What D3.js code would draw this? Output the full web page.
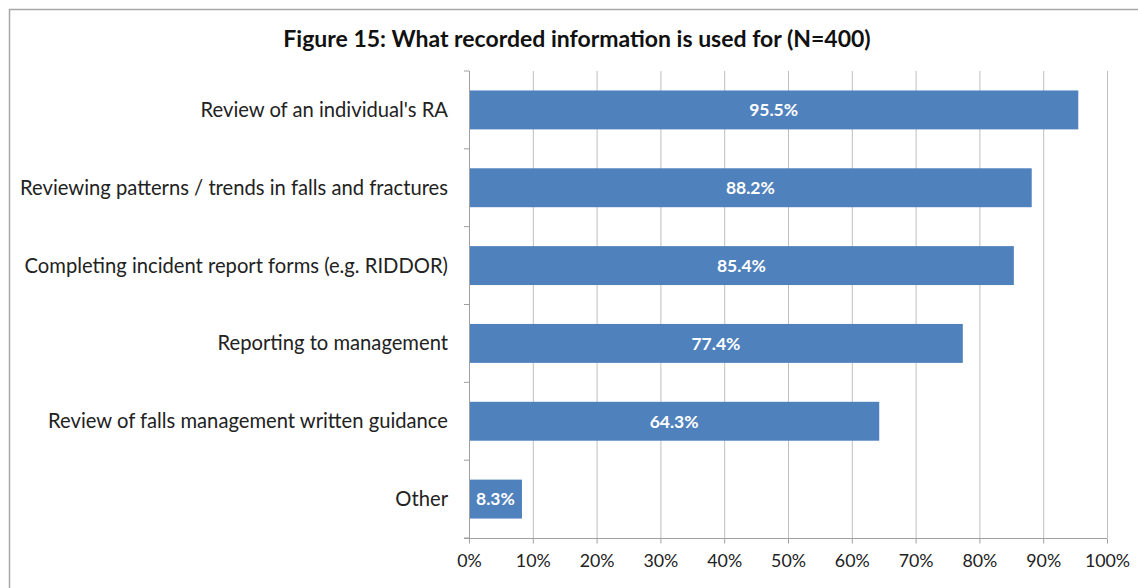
<!DOCTYPE html>
<html><head><meta charset="utf-8">
<script src="https://cdn.jsdelivr.net/npm/d3@7"></script>
<style>body{margin:0;background:#fff;} svg{display:block;}</style>
</head><body>
<svg id="c" width="1138" height="588"></svg>
<script>
const title = "Figure 15: What recorded information is used for (N=400)";
const categories = ["Review of an individual's RA","Reviewing patterns / trends in falls and fractures","Completing incident report forms (e.g. RIDDOR)","Reporting to management","Review of falls management written guidance","Other"];
const values = [95.5, 88.2, 85.4, 77.4, 64.3, 8.3];
const xTicks = [0,10,20,30,40,50,60,70,80,90,100];

const svg = d3.select("#c");
const font = "Lato, 'Open Sans', sans-serif";
const m = {left:469, right:1107, top:71, bottom:538};

// frame
svg.append("path").attr("d","M9.5,600 L9.5,9.5 L1140,9.5").attr("fill","none").attr("stroke","#a6a6a6").attr("stroke-width",1.5);

const x = d3.scaleLinear().domain([0,100]).range([m.left,m.right]);
const y = d3.scaleBand().domain(categories).range([m.top,m.bottom]).paddingInner(0.5).paddingOuter(0.25);

// gridlines
svg.append("g").selectAll("line").data(xTicks.slice(1)).join("line")
  .attr("x1",d=>x(d)+0.5).attr("x2",d=>x(d)+0.5).attr("y1",m.top).attr("y2",m.bottom)
  .attr("stroke","#bfbfbf").attr("stroke-width",1);

// bars
svg.append("g").selectAll("rect").data(values).join("rect")
  .attr("x",x(0)).attr("y",(d,i)=>y(categories[i])).attr("width",d=>x(d)-x(0)).attr("height",y.bandwidth())
  .attr("fill","#4f81bd");

// bottom axis
const xa = svg.append("g").attr("transform",`translate(0,${m.bottom+0.5})`)
  .call(d3.axisBottom(x).tickValues(xTicks).tickFormat(d=>d+"%").tickSize(5).tickSizeOuter(0));
xa.select(".domain").attr("stroke","#a0a0a0").attr("d",`M${m.left-5},0H${m.right}`);
xa.selectAll(".tick line").attr("stroke","#a0a0a0");
xa.selectAll(".tick text").attr("font-family",font).attr("font-size",17.8).attr("fill","#222").attr("y",28).attr("dy","0");

// left axis
const step = (m.bottom-m.top)/categories.length;
const la = svg.append("g");
la.append("line").attr("x1",m.left+0.5).attr("x2",m.left+0.5).attr("y1",m.top).attr("y2",m.bottom).attr("stroke","#a0a0a0");
la.selectAll("line.t").data(d3.range(categories.length+1)).join("line").attr("class","t")
  .attr("x1",m.left-5).attr("x2",m.left).attr("y1",i=>m.top+i*step).attr("y2",i=>m.top+i*step).attr("stroke","#a0a0a0");
la.selectAll("text").data(categories).join("text")
  .attr("x",448).attr("y",d=>y(d)+y.bandwidth()/2).attr("dy","0.35em").attr("text-anchor","end")
  .attr("font-family",font).attr("font-size",20.2).attr("fill","#222").text(d=>d);

// data labels
svg.append("g").selectAll("text").data(values).join("text")
  .attr("x",d=>(x(0)+x(d))/2).attr("y",(d,i)=>y(categories[i])+y.bandwidth()/2).attr("dy","0.36em")
  .attr("text-anchor","middle").attr("font-family",font).attr("font-weight","bold").attr("font-size",17.5).attr("fill","#fff")
  .text(d=>d.toFixed(1)+"%");

// title
svg.append("text").attr("x",577).attr("y",47).attr("text-anchor","middle").attr("font-family",font)
  .attr("font-weight","bold").attr("font-size",23).attr("fill","#111").text(title);
</script>
</body></html>
